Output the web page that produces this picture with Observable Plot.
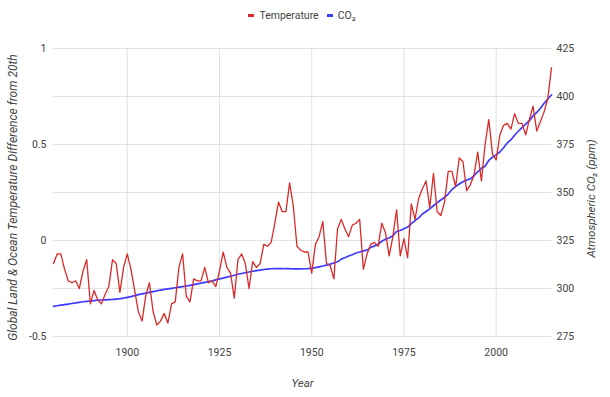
<!DOCTYPE html>
<html><head><meta charset="utf-8">
<script src="https://cdn.jsdelivr.net/npm/d3@7"></script>
<script src="https://cdn.jsdelivr.net/npm/@observablehq/plot@0.6"></script>
<style>
body{margin:0;background:#fff;font-family:Roboto,"Noto Sans",sans-serif;}
#wrap{position:relative;width:610px;height:397px;overflow:hidden;}
#legend{position:absolute;top:9px;left:0;width:604px;display:flex;justify-content:center;align-items:center;font-size:10.5px;color:#444;z-index:2;}
#legend .item{display:flex;align-items:center;margin:0 4px;}
#legend .sw{display:inline-block;width:6px;height:2.5px;margin-right:5px;}
</style></head><body>
<div id="wrap"><div id="legend"></div></div>
<script>
const years = d3.range(1880, 2016);
const temperature = [
-0.12,-0.07,-0.07,-0.15,-0.21,-0.22,-0.21,-0.25,-0.16,-0.10,
-0.33,-0.26,-0.31,-0.33,-0.28,-0.24,-0.10,-0.12,-0.27,-0.14,
-0.07,-0.15,-0.26,-0.37,-0.42,-0.29,-0.22,-0.37,-0.44,-0.42,
-0.38,-0.43,-0.33,-0.32,-0.14,-0.07,-0.29,-0.32,-0.20,-0.21,
-0.21,-0.14,-0.22,-0.21,-0.24,-0.16,-0.06,-0.14,-0.17,-0.30,
-0.10,-0.07,-0.12,-0.25,-0.11,-0.14,-0.12,-0.02,-0.03,-0.01,
0.09,0.20,0.15,0.15,0.30,0.18,-0.03,-0.05,-0.06,-0.06,
-0.17,-0.02,0.02,0.10,-0.12,-0.13,-0.20,0.06,0.11,0.06,
0.02,0.08,0.09,0.11,-0.15,-0.07,-0.02,-0.01,-0.03,0.09,
0.04,-0.08,0.02,0.16,-0.08,0.01,-0.09,0.19,0.11,0.22,
0.27,0.31,0.17,0.35,0.15,0.13,0.20,0.36,0.36,0.28,
0.43,0.41,0.26,0.29,0.34,0.46,0.31,0.50,0.63,0.45,
0.42,0.55,0.60,0.61,0.58,0.66,0.61,0.61,0.55,0.63,
0.70,0.57,0.62,0.67,0.74,0.90
];
const co2 = [
290.7,291.0,291.3,291.6,291.9,292.2,292.5,292.8,293.1,293.3,
293.5,293.7,293.9,294.0,294.1,294.2,294.3,294.5,294.7,295.0,
295.4,295.8,296.3,296.8,297.2,297.6,298.0,298.4,298.8,299.2,
299.5,299.8,300.1,300.4,300.7,301.0,301.3,301.6,302.0,302.4,
302.8,303.2,303.6,304.0,304.5,305.0,305.4,305.9,306.4,306.9,
307.4,307.8,308.2,308.6,309.0,309.3,309.6,309.9,310.1,310.3,
310.4,310.4,310.4,310.3,310.3,310.2,310.2,310.2,310.3,310.4,
310.6,310.9,311.3,311.7,312.2,312.7,313.3,313.9,315.3,316.0,
316.9,317.6,318.5,319.0,319.6,320.0,321.4,322.2,323.0,324.6,
325.7,326.3,327.5,329.7,330.2,331.1,332.0,333.8,335.4,336.8,
338.8,340.1,341.5,343.1,344.7,346.1,347.4,349.2,351.6,353.1,
354.4,355.6,356.5,357.1,358.8,360.8,362.6,363.7,366.7,368.4,
369.6,371.1,373.3,375.8,377.5,379.8,381.9,383.8,385.6,387.4,
389.9,391.7,393.9,396.5,398.7,400.8
];
const tempTicks = [-0.5, 0, 0.5, 1];
const gridValues = [-0.5, -0.25, 0, 0.25, 0.5, 0.75, 1];
const co2Ticks = [275, 300, 325, 350, 375, 400, 425];
const yearTicks = [1900, 1925, 1950, 1975, 2000];
const seriesNames = ["Temperature", "CO₂"];
const colors = ["#d92a2a", "#3b3bff"];

// map CO2 (275–425 ppm) onto the temperature axis (-0.5–1)
const co2ToT = c => (c - 275) / 100 - 0.5;
const tToCo2 = t => Math.round((t + 0.5) * 100 + 275);

const data = years.map((y, i) => ({year: y, temp: temperature[i], co2: co2[i]}));

const legend = document.getElementById("legend");
seriesNames.forEach((n, i) => {
  const it = document.createElement("span");
  it.className = "item";
  it.innerHTML = `<span class="sw" style="background:${colors[i]}"></span><span>${n}</span>`;
  legend.appendChild(it);
});

const chart = Plot.plot({
  width: 610, height: 397,
  marginTop: 48, marginBottom: 61, marginLeft: 53, marginRight: 59,
  style: {fontFamily: "Roboto, 'Noto Sans', sans-serif", fontSize: "10.5px", color: "#444", background: "#fff"},
  x: {domain: [1880, 2015]},
  y: {domain: [-0.5, 1]},
  marks: [
    Plot.gridY(gridValues, {stroke: "#e2e2e2", strokeOpacity: 1}),
    Plot.gridX(yearTicks, {stroke: "#e2e2e2", strokeOpacity: 1}),
    Plot.axisX({ticks: yearTicks, tickSize: 0, tickPadding: 12, tickFormat: d => String(d), label: null}),
    Plot.axisY({ticks: tempTicks, tickSize: 0, tickPadding: 7, tickFormat: d => String(d), label: null}),
    Plot.axisY({anchor: "right", ticks: co2Ticks.map(co2ToT), tickSize: 0, tickPadding: 5, tickFormat: t => String(tToCo2(t)), label: null}),
    Plot.lineY(data, {x: "year", y: d => co2ToT(d.co2), stroke: colors[1], strokeWidth: 1.7}),
    Plot.lineY(data, {x: "year", y: "temp", stroke: colors[0], strokeWidth: 1.3}),
    Plot.text(["Global Land & Ocean Temperature Difference from 20th"], {frameAnchor: "left", textAnchor: "middle", dx: -40, dy: 5, rotate: -90, fontStyle: "italic", fontSize: 12, fill: "#444"}),
    Plot.text(["Atmospheric CO₂ (ppm)"], {frameAnchor: "right", textAnchor: "middle", dx: 40, dy: 6, rotate: -90, fontStyle: "italic", fontSize: 11.5, fill: "#444"}),
    Plot.text(["Year"], {frameAnchor: "bottom", dy: 50, fontStyle: "italic", fontSize: 11.5, fill: "#444"})
  ]
});
document.getElementById("wrap").appendChild(chart);
</script>
</body></html>
